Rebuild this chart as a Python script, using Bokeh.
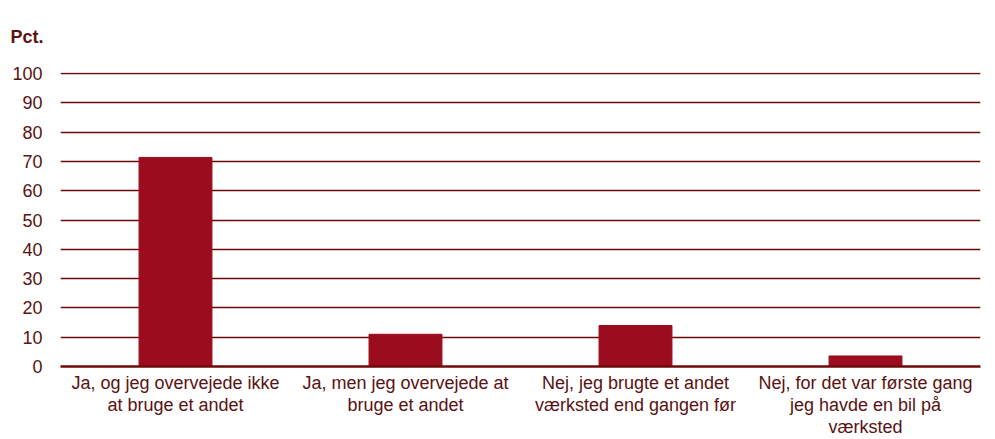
from bokeh.plotting import figure
from bokeh.models import FactorRange, Range1d, FixedTicker
from bokeh.embed import file_html
from bokeh.resources import INLINE

categories = [
    "Ja, og jeg overvejede ikke\nat bruge et andet",
    "Ja, men jeg overvejede at\nbruge et andet",
    "Nej, jeg brugte et andet\nværksted end gangen før",
    "Nej, for det var første gang\njeg havde en bil på\nværksted",
]
values = [71.4, 11.0, 14.0, 3.6]
y_ticks = [0, 10, 20, 30, 40, 50, 60, 70, 80, 90, 100]
unit_label = "Pct."

TEXT = "#5A1212"
GRID = "#6E0A0A"
BAR = "#9C0C1F"
FONT = "Liberation Sans"

p = figure(width=990, height=439, output_backend="svg", toolbar_location=None,
           x_range=FactorRange(*categories, range_padding=0),
           y_range=Range1d(0, 100.4),
           min_border_left=60, min_border_right=10, min_border_top=72, min_border_bottom=70,
           title=unit_label)
p.outline_line_color = None
p.background_fill_color = "white"
p.border_fill_color = "white"

p.title.text_font = FONT
p.title.text_font_size = "18px"
p.title.text_font_style = "bold"
p.title.text_color = TEXT
p.title.align = "left"
p.title.vertical_align = "top"
p.title.offset = -74
p.title.padding = 24
p.title.standoff = 0

p.vbar(x=categories, top=values, width=0.317, color=BAR)

p.yaxis.ticker = FixedTicker(ticks=y_ticks)
p.yaxis.axis_line_color = None
p.yaxis.major_tick_line_color = None
p.yaxis.minor_tick_line_color = None
p.yaxis.major_label_text_font = FONT
p.yaxis.major_label_text_font_size = "18px"
p.yaxis.major_label_text_color = TEXT
p.yaxis.major_label_standoff = 12

p.xaxis.axis_line_color = GRID
p.xaxis.axis_line_width = 2.5
p.xaxis.major_tick_line_color = None
p.xaxis.minor_tick_line_color = None
p.xaxis.major_label_text_font = FONT
p.xaxis.major_label_text_font_size = "18px"
p.xaxis.major_label_text_color = TEXT
p.xaxis.major_label_text_line_height = 1.1
p.xaxis.major_label_standoff = 0

p.xgrid.grid_line_color = None
p.ygrid.grid_line_color = GRID
p.ygrid.grid_line_width = 1.6
p.ygrid.level = "underlay"

open("out.html", "w").write(file_html(p, INLINE))
